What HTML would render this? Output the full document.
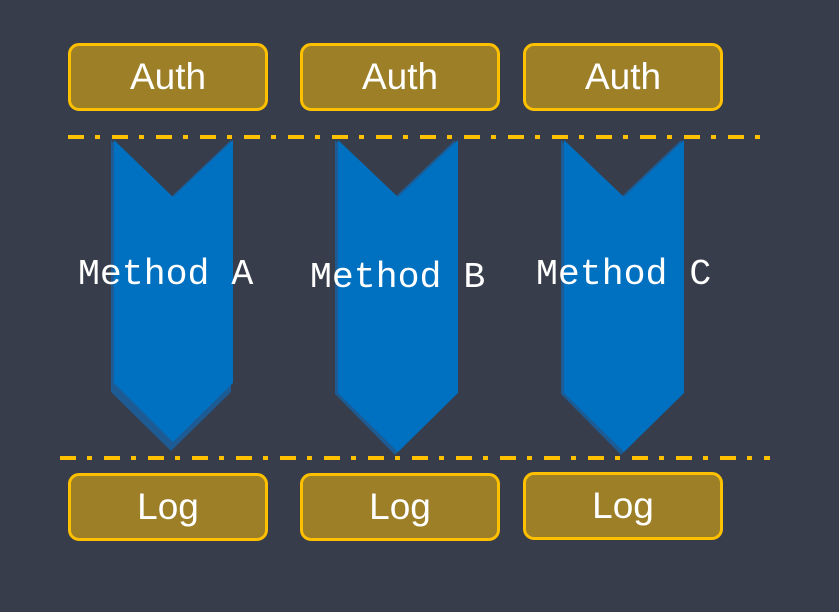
<!DOCTYPE html>
<html><head><meta charset="utf-8"><style>
body{margin:0;width:839px;height:612px;background:#373d4b;overflow:hidden;position:relative;font-family:"Liberation Sans",sans-serif}
.b{position:absolute;width:194px;height:62px;border:3px solid #ffc000;border-radius:11px;background:#9c7f27;color:#fff;font-size:37px;display:flex;align-items:center;justify-content:center;box-sizing:content-box}
.m{position:absolute;color:#fff;font-family:"Liberation Mono","DejaVu Sans Mono",monospace;font-size:36.5px;white-space:pre}
</style></head><body>
<svg width="839" height="612" style="position:absolute;left:0;top:0">
<g fill="#1d5b94">
<polygon points="111,140 171,197 231,140 231,392 171,451 111,392"/>
<polygon points="335,140 395,197 455,140 455,394 395,455 335,394"/>
<polygon points="561,140 621,197 681,140 681,394 621,455 561,394"/>
</g>
<g fill="#0070c0">
<polygon points="114,140 173,197 233,140 233,383 173,442 114,383"/>
<polygon points="338,140 398,197 458,140 458,393 398,452 338,393"/>
<polygon points="564,140 624,197 684,140 684,393 624,452 564,393"/>
</g>
<line x1="68" y1="137" x2="760" y2="137" stroke="#ffc000" stroke-width="4" stroke-dasharray="16 11 5 12"/>
<line x1="60" y1="458" x2="770" y2="458" stroke="#ffc000" stroke-width="4" stroke-dasharray="16 11 5 12"/>
</svg>
<div class="b" style="left:68px;top:43px">Auth</div>
<div class="b" style="left:300px;top:43px">Auth</div>
<div class="b" style="left:523px;top:43px">Auth</div>
<div class="b" style="left:68px;top:473px">Log</div>
<div class="b" style="left:300px;top:473px">Log</div>
<div class="b" style="left:523px;top:472px">Log</div>
<div class="m" style="left:78px;top:254px">Method A</div>
<div class="m" style="left:310px;top:257px">Method B</div>
<div class="m" style="left:536px;top:254px">Method C</div>
</body></html>
